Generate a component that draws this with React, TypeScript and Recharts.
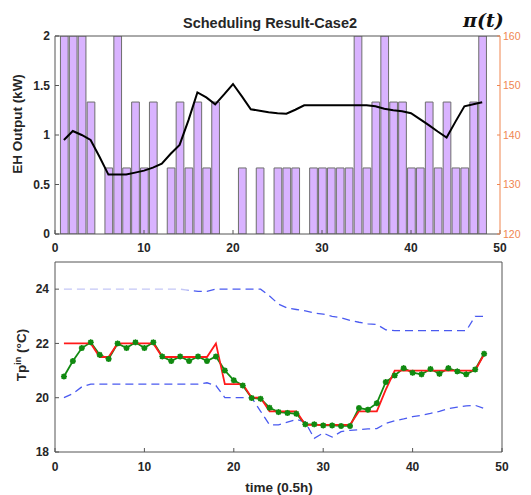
import React from 'react';
import { ComposedChart, Bar, Line, XAxis, YAxis } from 'recharts';

const slots = [1,2,3,4,5,6,7,8,9,10,11,12,13,14,15,16,17,18,19,20,21,22,23,24,25,26,27,28,29,30,31,32,33,34,35,36,37,38,39,40,41,42,43,44,45,46,47,48];

const ehOutput = [2,2,2,1.333,0,0.667,2,0.667,1.333,0.667,1.333,0,0.667,1.333,0.667,1.333,0.667,1.333,0,0,0.667,0,0.667,0,0.667,0.667,0.667,0,0.667,0.667,0.667,0.667,0.667,2,0.667,1.333,2,1.333,1.333,0.667,0.667,1.333,0.667,1.333,0.667,0.667,1.333,2];

const price = [139.0,140.8,140.0,139.0,135.6,132.0,132.0,132.0,132.4,132.8,133.4,134.2,136.2,138.0,143.0,148.6,147.6,146.2,148.2,150.3,147.8,145.2,144.9,144.6,144.4,144.3,145.1,146.0,146.0,146.0,146.0,146.0,146.0,146.0,146.0,145.8,145.3,145.0,144.8,144.4,143.2,142.0,140.7,139.5,142.7,145.8,146.2,146.6];

const tpIn = [20.78,21.35,21.83,22.04,21.58,21.43,22.0,21.83,22.04,21.83,22.04,21.52,21.35,21.52,21.35,21.52,21.35,21.52,21.0,20.64,20.45,19.99,19.96,19.63,19.47,19.44,19.41,19.02,19.02,18.98,18.98,18.96,18.96,19.62,19.56,19.8,20.58,20.82,21.09,20.92,20.86,21.06,20.88,21.09,20.97,20.86,21.04,21.62];

const tpSet = [22,22,22,22,21.5,21.5,22,22,22,22,22,21.5,21.5,21.5,21.5,21.5,21.5,22,20.5,20.5,20.5,20,20,19.5,19.5,19.5,19.5,19,19,19,19,19,19,19.5,19.5,19.5,20.3,21,21,21,21,21,21,21,21,21,21,21.6];

const tpUpper = [24,24,24,24,24,24,24,24,24,24,24,24,24,24,23.95,23.92,23.92,24,24,24,24,24,24,23.75,23.45,23.3,23.25,23.2,23.12,23.08,23.0,22.95,22.85,22.78,22.72,22.7,22.5,22.47,22.47,22.47,22.47,22.47,22.47,22.47,22.47,22.47,23.0,23.0];

const tpLower = [20.0,20.15,20.4,20.5,20.5,20.5,20.5,20.5,20.5,20.5,20.5,20.5,20.5,20.5,20.5,20.5,20.55,20.45,20.0,20.0,20.0,20.0,19.5,19.0,19.0,19.1,19.2,19.1,18.5,18.7,18.55,18.75,18.8,18.82,18.85,18.86,19.05,19.15,19.22,19.3,19.35,19.42,19.5,19.6,19.65,19.7,19.72,19.6];

const xTicks = [0, 10, 20, 30, 40, 50];
const innerXTicks = [10, 20, 30, 40];
const ehTicks = [0, 0.5, 1, 1.5, 2];
const priceTicks = [120, 130, 140, 150, 160];
const tempTicks = [18, 20, 22, 24];

const topData = slots.map((t, i) => ({ t, eh: ehOutput[i], price: price[i] }));
const bottomData = slots.map((t, i) => ({ t, tin: tpIn[i], set: tpSet[i], up: tpUpper[i], low: tpLower[i] }));

const FONT = '"Liberation Sans", Arial, sans-serif';
const AXIS = '#555555';
const TXT = '#262626';
const ORANGE = '#F08650';
const tickStyle = { fill: TXT, fontSize: 12, fontWeight: 700, fontFamily: FONT };

const StarDot = (props: any) => {
  const { cx, cy, index } = props;
  if (cx == null || cy == null) return <g key={'d' + index} />;
  const r = 3;
  return (
    <g key={'d' + index} stroke="#118a11" strokeWidth={1.5}>
      <circle cx={cx} cy={cy} r={1.8} fill="#118a11" />
      <line x1={cx - r} y1={cy} x2={cx + r} y2={cy} />
      <line x1={cx} y1={cy - r} x2={cx} y2={cy + r} />
      <line x1={cx - 2.2} y1={cy - 2.2} x2={cx + 2.2} y2={cy + 2.2} />
      <line x1={cx - 2.2} y1={cy + 2.2} x2={cx + 2.2} y2={cy - 2.2} />
    </g>
  );
};

export default function App() {
  return (
    <div style={{ position: 'absolute', left: 0, top: 0, width: 531, height: 495, background: '#fff' }}>
      <div style={{ position: 'absolute', left: 0, top: 0 }}>
        <ComposedChart width={531} height={260} data={topData} margin={{ top: 35, right: 0, bottom: 0, left: 0 }}>
          <XAxis dataKey="t" type="number" domain={[0, 50]} ticks={xTicks} allowDataOverflow height={26}
            stroke={AXIS} tick={tickStyle} tickSize={-4} tickMargin={13} interval={0} />
          <XAxis xAxisId="top" dataKey="t" type="number" domain={[0, 50]} ticks={innerXTicks} allowDataOverflow
            orientation="top" height={1} stroke={AXIS} tick={false} tickSize={-4} interval={0} />
          <YAxis yAxisId="left" type="number" domain={[0, 2]} ticks={ehTicks} allowDataOverflow width={55}
            stroke={AXIS} tick={tickStyle} tickSize={-4} tickMargin={9} interval={0} />
          <YAxis yAxisId="right" orientation="right" type="number" domain={[120, 160]} ticks={priceTicks}
            allowDataOverflow width={31} stroke={ORANGE}
            tick={{ fill: ORANGE, fontSize: 10.5, fontFamily: FONT }} tickSize={-3} tickMargin={6} interval={0} />
          <Bar yAxisId="left" dataKey="eh" barSize={7.7} fill="#D9B3FF" stroke="#6e6e6e" strokeWidth={1}
            isAnimationActive={false} />
          <Line yAxisId="right" dataKey="price" type="linear" stroke="#000" strokeWidth={2} dot={false}
            isAnimationActive={false} />
        </ComposedChart>
      </div>
      <div style={{ position: 'absolute', left: 0, top: 245 }}>
        <ComposedChart width={531} height={250} data={bottomData} margin={{ top: 16, right: 28, bottom: 0, left: 0 }}>
          <defs>
            <linearGradient id="upGrad" x1="0" y1="0" x2="1" y2="0">
              <stop offset="0" stopColor="#c3c6f6" />
              <stop offset="0.29" stopColor="#c3c6f6" />
              <stop offset="0.31" stopColor="#4a5af0" />
              <stop offset="1" stopColor="#4a5af0" />
            </linearGradient>
          </defs>
          <XAxis dataKey="t" type="number" domain={[0, 50]} ticks={xTicks} allowDataOverflow height={43}
            stroke={AXIS} tick={tickStyle} tickSize={-4} tickMargin={14} interval={0} />
          <XAxis xAxisId="top" dataKey="t" type="number" domain={[0, 50]} ticks={innerXTicks} allowDataOverflow
            orientation="top" height={1} stroke={AXIS} tick={false} tickSize={-4} interval={0} />
          <YAxis yAxisId="left" type="number" domain={[18, 25]} ticks={tempTicks} allowDataOverflow width={55}
            stroke={AXIS} tick={tickStyle} tickSize={-4} tickMargin={10} interval={0} />
          <YAxis yAxisId="right" orientation="right" type="number" domain={[18, 25]} ticks={tempTicks}
            allowDataOverflow width={1} stroke={AXIS} tick={false} tickSize={-4} interval={0} />
          <Line yAxisId="left" dataKey="up" type="linear" stroke="url(#upGrad)" strokeWidth={1.3}
            strokeDasharray="8 5" dot={false} isAnimationActive={false} />
          <Line yAxisId="left" dataKey="low" type="linear" stroke="#4a5af0" strokeWidth={1.3}
            strokeDasharray="8 5" dot={false} isAnimationActive={false} />
          <Line yAxisId="left" dataKey="tin" type="linear" stroke="#118a11" strokeWidth={1.8}
            dot={StarDot} isAnimationActive={false} />
          <Line yAxisId="left" dataKey="set" type="linear" stroke="#ff1a1a" strokeWidth={1.8} dot={false}
            isAnimationActive={false} />
        </ComposedChart>
      </div>
      <svg width={531} height={495} style={{ position: 'absolute', left: 0, top: 0, pointerEvents: 'none' }}>
        <text x={270} y={28} textAnchor="middle" fontFamily={FONT} fontWeight={700} fontSize={14.5} fill={TXT}>
          Scheduling Result-Case2
        </text>
        <text x={463} y={27} fontFamily='"DejaVu Serif", serif' fontWeight={700} fontStyle="italic" fontSize={19} fill="#111">
          π(t)
        </text>
        <text x={0} y={0} transform="translate(22,124) rotate(-90)" textAnchor="middle" fontFamily={FONT}
          fontWeight={700} fontSize={13.5} fill={TXT}>
          EH Output (kW)
        </text>
        <text x={0} y={0} transform="translate(26,355) rotate(-90)" textAnchor="middle" fontFamily={FONT}
          fontWeight={700} fontSize={13.5} fill={TXT}>
          Tp<tspan fontSize={9} dy={-5}>in</tspan><tspan dy={5}> (°C)</tspan>
        </text>
        <text x={279} y={492} textAnchor="middle" fontFamily={FONT} fontWeight={700} fontSize={13.5} fill={TXT}>
          time (0.5h)
        </text>
      </svg>
    </div>
  );
}
